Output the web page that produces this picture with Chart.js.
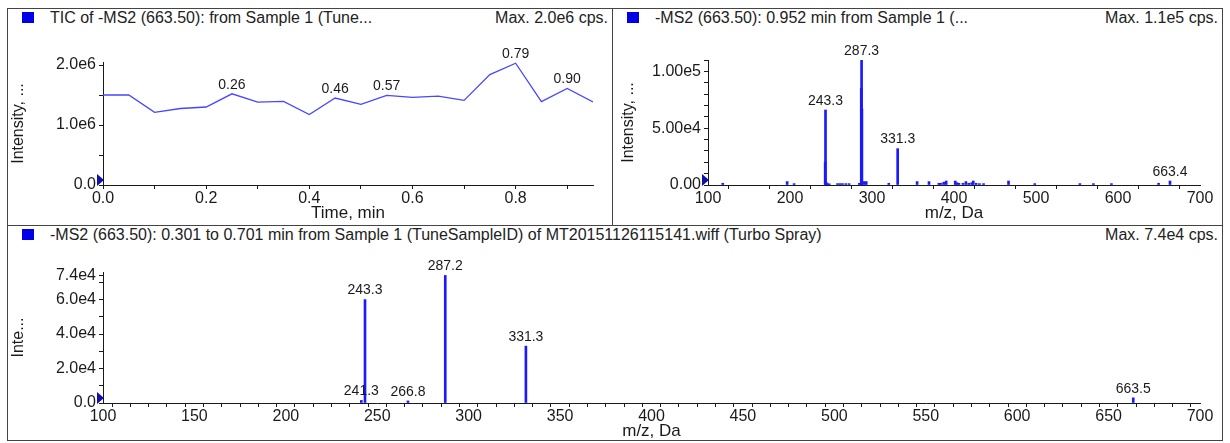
<!DOCTYPE html>
<html>
<head>
<meta charset="utf-8">
<script src="https://cdn.jsdelivr.net/npm/chart.js@4.4.1/dist/chart.umd.min.js"></script>
<style>
  body { margin: 0; background: #fff; width: 1230px; height: 443px; position: relative; overflow: hidden; font-family: "Liberation Sans", Arial, sans-serif; }
  .panel { position: absolute; border: 1px solid #444; box-sizing: border-box; }
  .chip { position: absolute; width: 12px; height: 11px; background: #0000e6; }
  .title, .max { position: absolute; font-size: 16px; color: #222; white-space: nowrap; line-height: 18px; }
  .max { text-align: right; }
  canvas { position: absolute; }
</style>
</head>
<body>
<div class="panel" style="left:7px;top:8px;width:606px;height:218px"></div>
<div class="panel" style="left:612px;top:8px;width:611px;height:218px"></div>
<div class="panel" style="left:7px;top:225px;width:1216px;height:216px"></div>

<div class="chip" style="left:22px;top:12px"></div>
<div class="title" style="left:50px;top:9px">TIC of -MS2 (663.50): from Sample 1 (Tune...</div>
<div class="max" style="left:400px;top:9px;width:208px">Max. 2.0e6 cps.</div>

<div class="chip" style="left:627px;top:12px"></div>
<div class="title" style="left:655px;top:9px">-MS2 (663.50): 0.952 min from Sample 1 (...</div>
<div class="max" style="left:1000px;top:9px;width:218px">Max. 1.1e5 cps.</div>

<div class="chip" style="left:22px;top:229px"></div>
<div class="title" style="left:50px;top:226px">-MS2 (663.50): 0.301 to 0.701 min from Sample 1 (TuneSampleID) of MT20151126115141.wiff (Turbo Spray)</div>
<div class="max" style="left:1000px;top:226px;width:218px">Max. 7.4e4 cps.</div>

<canvas id="tic" width="603" height="194" style="left:8px;top:30px"></canvas>
<canvas id="ms952" width="608" height="194" style="left:613px;top:30px"></canvas>
<canvas id="msavg" width="1213" height="194" style="left:8px;top:248px"></canvas>

<script>
// TIC, one scan every 0.05 min
const ticTime = [0.00, 0.05, 0.10, 0.15, 0.20, 0.25, 0.30, 0.35, 0.40, 0.45,
                 0.50, 0.55, 0.60, 0.65, 0.70, 0.75, 0.80, 0.85, 0.90, 0.95];
const ticIntensity = [1.50e6, 1.50e6, 1.21e6, 1.275e6, 1.30e6, 1.52e6, 1.38e6, 1.395e6, 1.175e6, 1.45e6,
                      1.345e6, 1.495e6, 1.46e6, 1.48e6, 1.41e6, 1.84e6, 2.03e6, 1.39e6, 1.61e6, 1.385e6];
const ticPeakIdx = [5, 9, 11, 16, 18];
const ticPeakText = ["0.26", "0.46", "0.57", "0.79", "0.90"];
const ticXLabels = [0, 0.2, 0.4, 0.6, 0.8];
const ticYLabels = [0, 1e6, 2e6];

// -MS2 spectrum at 0.952 min
const ms952Mz = [118, 196.5, 205, 242.9, 243.3, 244.5, 246, 248, 258, 261, 264, 268, 272, 284.5,
                 286.9, 287.3, 287.7, 290.5, 293, 320.5, 331.3, 355, 369.5, 381.5, 384, 387.5, 390.5,
                 401.5, 403.5, 406, 411, 414.5, 418, 421.5, 423.5, 427, 431, 436, 466.5, 498.5,
                 553.5, 570, 592, 649.5, 663.4];
const ms952Int = [1.5e3, 3e3, 1.2e3, 2.0e4, 6.6e4, 2e3, 1e3, 1e3, 1.2e3, 1.2e3, 1.2e3, 1.2e3, 1.2e3, 1.5e3,
                  8.5e4, 1.1e5, 6.7e4, 3e3, 3e3, 1.5e3, 3.2e4, 3e3, 3e3, 1.5e3, 1.5e3, 2.5e3, 3.5e3,
                  3.5e3, 2e3, 1.5e3, 1.5e3, 3e3, 1.5e3, 2e3, 3.5e3, 1.5e3, 1.2e3, 1.2e3, 3.5e3, 1.2e3,
                  1.2e3, 1.2e3, 1.2e3, 1.5e3, 3.5e3];
const ms952Labels = [243.3, 287.3, 331.3, 663.4];
const ms952XLabels = [100, 200, 300, 400, 500, 600, 700];
const ms952YLabels = [0, 5e4, 1e5];

// -MS2 averaged 0.301 to 0.701 min
const msAvgMz = [241.3, 243.3, 266.8, 287.2, 331.3, 663.5];
const msAvgInt = [1.5e3, 6.0e4, 1.2e3, 7.4e4, 3.3e4, 3.0e3];
const msAvgLabels = [241.3, 243.3, 266.8, 287.2, 331.3, 663.5];
const msAvgXLabels = [100, 150, 200, 250, 300, 350, 400, 450, 500, 550, 600, 650, 700];
const msAvgYLabels = [0, 2e4, 4e4, 6e4, 7.4e4];

const FONT = "'Liberation Sans', Arial, sans-serif";
const INK = "#1a1a1a";
const BLUE = "#1a1aff";

const peakLabels = {
  id: "peakLabels",
  afterDatasetsDraw(chart, args, opts) {
    const ctx = chart.ctx;
    const meta = chart.getDatasetMeta(0);
    ctx.save();
    ctx.font = "14px " + FONT;
    ctx.fillStyle = INK;
    ctx.textAlign = "center";
    ctx.textBaseline = "bottom";
    opts.items.forEach((it) => {
      const el = meta.data[it.index];
      ctx.fillText(it.text, el.x, el.y - 2);
    });
    ctx.restore();
  },
};

// little blue arrow sitting on the y axis at zero
const originMarker = {
  id: "originMarker",
  afterDraw(chart) {
    const { ctx, chartArea } = chart;
    const l = chartArea.left, b = chartArea.bottom;
    ctx.save();
    ctx.fillStyle = "#1010a8";
    ctx.beginPath();
    ctx.moveTo(l - 6, b - 11);
    ctx.lineTo(l + 1, b - 5);
    ctx.lineTo(l - 6, b + 1);
    ctx.closePath();
    ctx.fill();
    ctx.restore();
  },
};

function near(list, v) {
  return list.some((l) => Math.abs(l - v) < 1e-6 * Math.max(1, Math.abs(l)));
}

function axis(o) {
  const isX = o.x;
  return {
    type: "linear",
    min: o.min,
    max: o.max,
    offset: false,
    afterBuildTicks(scale) {
      const ticks = [];
      for (let v = o.min; v <= o.tickTop + o.step / 1000; v += o.step) ticks.push({ value: +v.toPrecision(10) });
      (o.extra || []).forEach((v) => ticks.push({ value: v }));
      scale.ticks = ticks;
    },
    afterFit(scale) {
      if (isX) scale.height = o.size;
      else scale.width = o.size;
    },
    grid: { drawOnChartArea: false, drawTicks: true, tickLength: 4, tickColor: INK },
    border: { display: true, color: INK, width: 1 },
    ticks: {
      autoSkip: false,
      maxRotation: 0,
      padding: isX ? 0 : 3,
      color: INK,
      font: { family: FONT, size: 16 },
      callback: (v) => (near(o.labels, v) ? o.fmt(v) : ""),
    },
    title: {
      display: true,
      text: o.title,
      color: INK,
      font: { family: FONT, size: isX ? 17 : 16 },
      padding: isX ? { top: 0, bottom: o.titlePad } : { top: o.titlePad, bottom: 0 },
    },
  };
}

const expo = (digits, zero) => (v) => (v === 0 ? zero : v.toExponential(digits).replace("e+", "e"));

function baseOptions(padding, items, scales) {
  return {
    animation: false,
    responsive: false,
    layout: { padding: padding },
    plugins: { legend: { display: false }, tooltip: { enabled: false }, peakLabels: { items: items } },
    scales: scales,
  };
}

// TIC
new Chart(document.getElementById("tic"), {
  type: "line",
  data: {
    datasets: [{
      data: ticTime.map((t, i) => ({ x: t, y: ticIntensity[i] })),
      borderColor: "#4747ff",
      borderWidth: 1.3,
      pointRadius: 0,
      tension: 0,
    }],
  },
  options: baseOptions(
    { left: 0, right: 18, top: 32, bottom: 0 },
    ticPeakIdx.map((idx, k) => ({ index: idx, text: ticPeakText[k] })),
    {
      x: axis({ x: true, min: 0, max: 0.95, tickTop: 0.9, step: 0.1, labels: ticXLabels, fmt: (v) => v.toFixed(1), size: 39, title: "Time, min", titlePad: 0.5 }),
      y: axis({ min: 0, max: 2.05e6, tickTop: 2e6, step: 5e5, labels: ticYLabels, fmt: expo(1, "0.0"), size: 95, title: "Intensity, ...", titlePad: 0.5 }),
    }
  ),
  plugins: [peakLabels, originMarker],
});

// spectrum at 0.952 min
new Chart(document.getElementById("ms952"), {
  type: "bar",
  data: {
    datasets: [{
      data: ms952Mz.map((m, i) => ({ x: m, y: ms952Int[i] })),
      backgroundColor: BLUE,
      borderWidth: 0,
      barThickness: 2,
    }],
  },
  options: baseOptions(
    { left: 0, right: 21, top: 30, bottom: 0 },
    ms952Labels.map((m) => ({ index: ms952Mz.indexOf(m), text: m.toFixed(1) })),
    {
      x: axis({ x: true, min: 100, max: 700, tickTop: 700, step: 50, labels: ms952XLabels, fmt: (v) => String(v), size: 39, title: "m/z, Da", titlePad: 0.5 }),
      y: axis({ min: 0, max: 1.1e5, tickTop: 1.1e5, step: 1e4, labels: ms952YLabels, fmt: expo(2, "0.00"), size: 95, title: "Intensity, ...", titlePad: 5.5 }),
    }
  ),
  plugins: [peakLabels, originMarker],
});

// averaged spectrum 0.301 to 0.701 min
new Chart(document.getElementById("msavg"), {
  type: "bar",
  data: {
    datasets: [{
      data: msAvgMz.map((m, i) => ({ x: m, y: msAvgInt[i] })),
      backgroundColor: BLUE,
      borderWidth: 0,
      barThickness: 2,
    }],
  },
  options: baseOptions(
    { left: 0, right: 21, top: 24, bottom: 0 },
    msAvgLabels.map((m) => ({ index: msAvgMz.indexOf(m), text: m.toFixed(1) })),
    {
      x: axis({ x: true, min: 100, max: 700, tickTop: 700, step: 10, labels: msAvgXLabels, fmt: (v) => String(v), size: 39, title: "m/z, Da", titlePad: 0 }),
      y: axis({ min: 0, max: 7.6e4, tickTop: 7e4, step: 1e4, extra: [7.4e4], labels: msAvgYLabels, fmt: expo(1, "0.0"), size: 95, title: "Inte...", titlePad: 0.5 }),
    }
  ),
  plugins: [peakLabels, originMarker],
});
</script>
</body>
</html>
